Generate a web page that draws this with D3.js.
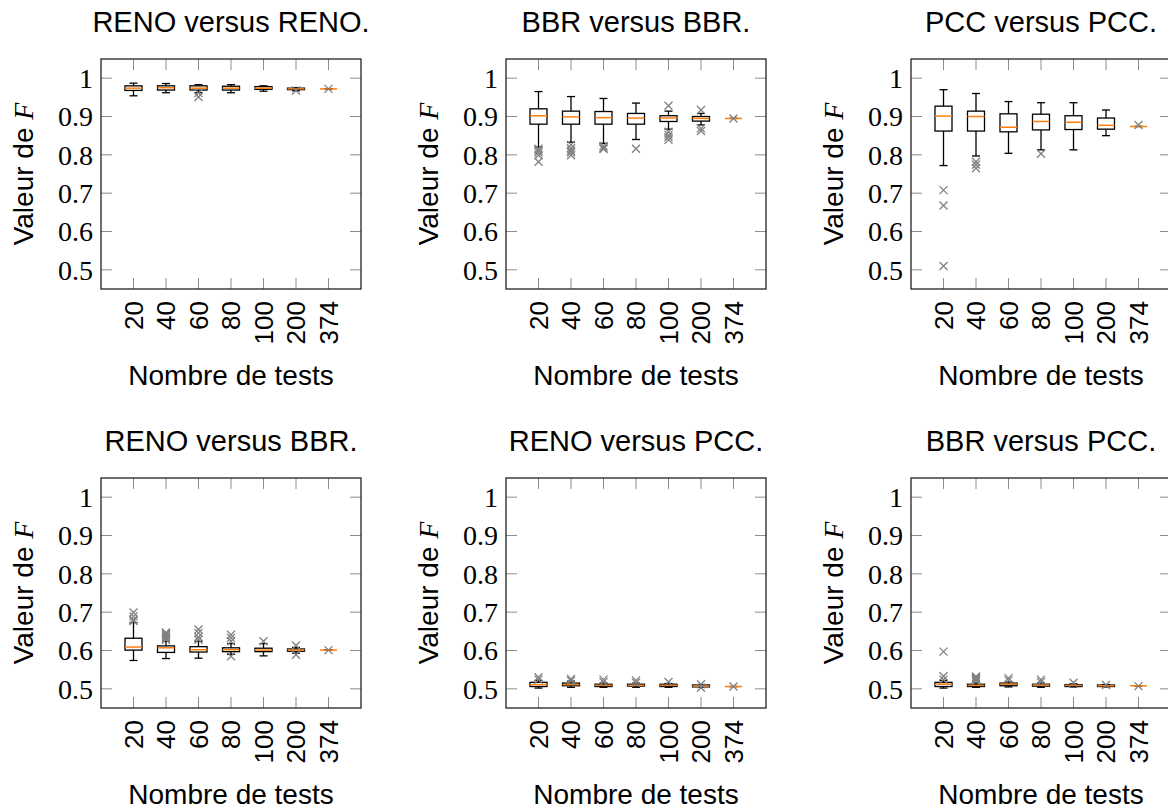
<!DOCTYPE html>
<html>
<head>
<meta charset="utf-8">
<script src="https://cdn.jsdelivr.net/npm/d3@7"></script>
<style>
  html, body { margin: 0; padding: 0; background: #fff; }
  svg { display: block; }
</style>
</head>
<body>
<svg id="chart" width="1168" height="812"></svg>
<script>
// Number of tests drawn per sample (x categories)
const categories = ["20", "40", "60", "80", "100", "200", "374"];
const yTicks = [0.5, 0.6, 0.7, 0.8, 0.9, 1];

const titles = [
  "RENO versus RENO.", "BBR versus BBR.", "PCC versus PCC.",
  "RENO versus BBR.", "RENO versus PCC.", "BBR versus PCC."
];

// Box statistics per category: [lower whisker, Q1, median, Q3, upper whisker]
const renoReno = [
  [0.954, 0.968, 0.974, 0.980, 0.987],
  [0.962, 0.969, 0.975, 0.980, 0.986],
  [0.962, 0.969, 0.974, 0.980, 0.983],
  [0.962, 0.969, 0.974, 0.979, 0.983],
  [0.966, 0.971, 0.974, 0.978, 0.980],
  [0.967, 0.970, 0.972, 0.974, 0.975],
  [0.972, 0.972, 0.972, 0.972, 0.972]
];
const renoRenoOut = [[], [], [0.951, 0.961], [], [], [0.968], [0.972]];

const bbrBbr = [
  [0.820, 0.880, 0.902, 0.920, 0.965],
  [0.833, 0.880, 0.899, 0.914, 0.952],
  [0.830, 0.880, 0.897, 0.913, 0.947],
  [0.840, 0.880, 0.896, 0.908, 0.935],
  [0.867, 0.887, 0.896, 0.902, 0.914],
  [0.878, 0.888, 0.895, 0.900, 0.908],
  [0.895, 0.895, 0.895, 0.895, 0.895]
];
const bbrBbrOut = [
  [0.816, 0.811, 0.806, 0.799, 0.782],
  [0.826, 0.817, 0.811, 0.806, 0.799],
  [0.823, 0.818, 0.815],
  [0.816],
  [0.928, 0.860, 0.852, 0.846, 0.839],
  [0.917, 0.869, 0.862],
  [0.895]
];

const pccPcc = [
  [0.772, 0.862, 0.901, 0.927, 0.970],
  [0.797, 0.862, 0.900, 0.914, 0.960],
  [0.804, 0.860, 0.872, 0.907, 0.939],
  [0.813, 0.865, 0.887, 0.906, 0.936],
  [0.813, 0.866, 0.885, 0.902, 0.936],
  [0.850, 0.867, 0.877, 0.896, 0.917],
  [0.874, 0.874, 0.874, 0.874, 0.874]
];
const pccPccOut = [
  [0.708, 0.668, 0.510],
  [0.782, 0.774, 0.765],
  [],
  [0.803],
  [],
  [],
  [0.878]
];

const renoBbr = [
  [0.574, 0.601, 0.609, 0.632, 0.673],
  [0.579, 0.595, 0.607, 0.612, 0.624],
  [0.580, 0.596, 0.602, 0.610, 0.624],
  [0.590, 0.597, 0.602, 0.607, 0.618],
  [0.586, 0.597, 0.601, 0.606, 0.618],
  [0.593, 0.598, 0.601, 0.604, 0.608],
  [0.601, 0.601, 0.601, 0.601, 0.601]
];
const renoBbrOut = [
  [0.699, 0.689, 0.680, 0.677],
  [0.647, 0.643, 0.640, 0.636, 0.632, 0.628],
  [0.655, 0.646, 0.635, 0.628],
  [0.641, 0.633, 0.624, 0.585],
  [0.624],
  [0.613, 0.589],
  [0.601]
];

const renoPcc = [
  [0.502, 0.506, 0.511, 0.517, 0.522],
  [0.504, 0.508, 0.511, 0.515, 0.520],
  [0.504, 0.506, 0.509, 0.512, 0.515],
  [0.504, 0.507, 0.509, 0.512, 0.515],
  [0.504, 0.506, 0.509, 0.512, 0.514],
  [0.504, 0.505, 0.507, 0.510, 0.511],
  [0.506, 0.506, 0.506, 0.506, 0.506]
];
const renoPccOut = [
  [0.530, 0.524],
  [0.526, 0.521],
  [0.524, 0.518],
  [0.522, 0.516],
  [0.518],
  [0.512, 0.503],
  [0.506]
];

const bbrPcc = [
  [0.502, 0.506, 0.512, 0.517, 0.522],
  [0.504, 0.506, 0.509, 0.512, 0.515],
  [0.505, 0.508, 0.512, 0.515, 0.518],
  [0.504, 0.507, 0.510, 0.512, 0.515],
  [0.505, 0.506, 0.509, 0.511, 0.513],
  [0.505, 0.506, 0.508, 0.510, 0.511],
  [0.508, 0.508, 0.508, 0.508, 0.508]
];
const bbrPccOut = [
  [0.597, 0.533, 0.524],
  [0.532, 0.529, 0.526, 0.523, 0.520],
  [0.528, 0.522],
  [0.524, 0.518],
  [0.516],
  [0.510],
  [0.507]
];

const boxes = [renoReno, bbrBbr, pccPcc, renoBbr, renoPcc, bbrPcc];
const outliers = [renoRenoOut, bbrBbrOut, pccPccOut, renoBbrOut, renoPccOut, bbrPccOut];

// ---- layout ----
const plotW = 260, plotH = 230;
const colX = [101, 506, 911];
const rowY = [59, 478];
const tickLen = 11;
const sans = "'Liberation Sans', Arial, Helvetica, sans-serif";
const serif = "'Liberation Serif', 'Times New Roman', serif";

const svg = d3.select("#chart");

boxes.forEach((stats, p) => {
  const left = colX[p % 3], top = rowY[Math.floor(p / 3)];
  const g = svg.append("g").attr("transform", `translate(${left},${top})`);

  const x = d3.scaleLinear().domain([0, categories.length + 1]).range([0, plotW]);
  const y = d3.scaleLinear().domain([0.45, 1.05]).range([plotH, 0]);
  const pos = categories.map((c, i) => i + 1);

  // tick marks on all four sides, pointing inward
  const tickStyle = sel => sel.attr("stroke", "#8c8c8c").attr("stroke-width", 1);
  g.selectAll(".xtb").data(pos).join("line")
    .attr("x1", d => x(d)).attr("x2", d => x(d))
    .attr("y1", plotH).attr("y2", plotH - tickLen).call(tickStyle);
  g.selectAll(".xtt").data(pos).join("line")
    .attr("x1", d => x(d)).attr("x2", d => x(d))
    .attr("y1", 0).attr("y2", tickLen).call(tickStyle);
  g.selectAll(".ytl").data(yTicks).join("line")
    .attr("x1", 0).attr("x2", tickLen)
    .attr("y1", d => y(d)).attr("y2", d => y(d)).call(tickStyle);
  g.selectAll(".ytr").data(yTicks).join("line")
    .attr("x1", plotW).attr("x2", plotW - tickLen)
    .attr("y1", d => y(d)).attr("y2", d => y(d)).call(tickStyle);

  // y tick labels
  g.selectAll(".ylab").data(yTicks).join("text")
    .attr("x", -8).attr("y", d => y(d)).attr("dy", "0.35em")
    .attr("text-anchor", "end")
    .attr("font-family", serif).attr("font-size", 28)
    .text(d => d === 1 ? "1" : d3.format(".1f")(d));

  // x tick labels (rotated)
  g.selectAll(".xlab").data(pos).join("text")
    .attr("transform", d => `translate(${x(d) + 9},${plotH + 12}) rotate(-90)`)
    .attr("text-anchor", "end")
    .attr("font-family", sans).attr("font-size", 26)
    .text((d, i) => categories[i]);

  const boxW = 17, capW = 8;

  stats.forEach((s, i) => {
    const cx = x(pos[i]);
    const [lo, q1, med, q3, hi] = s;
    const bg = g.append("g");
    // whiskers
    bg.append("line").attr("x1", cx).attr("x2", cx).attr("y1", y(hi)).attr("y2", y(q3))
      .attr("stroke", "#000").attr("stroke-width", 1.3);
    bg.append("line").attr("x1", cx).attr("x2", cx).attr("y1", y(q1)).attr("y2", y(lo))
      .attr("stroke", "#000").attr("stroke-width", 1.3);
    bg.append("line").attr("x1", cx - capW / 2).attr("x2", cx + capW / 2).attr("y1", y(hi)).attr("y2", y(hi))
      .attr("stroke", "#000").attr("stroke-width", 1.3);
    bg.append("line").attr("x1", cx - capW / 2).attr("x2", cx + capW / 2).attr("y1", y(lo)).attr("y2", y(lo))
      .attr("stroke", "#000").attr("stroke-width", 1.3);
    // box
    bg.append("rect").attr("x", cx - boxW / 2).attr("width", boxW)
      .attr("y", y(q3)).attr("height", Math.max(0, y(q1) - y(q3)))
      .attr("fill", "none").attr("stroke", "#000").attr("stroke-width", 1.3);
    // median
    bg.append("line").attr("x1", cx - boxW / 2).attr("x2", cx + boxW / 2)
      .attr("y1", y(med)).attr("y2", y(med))
      .attr("stroke", "#ff7f0e").attr("stroke-width", 1.5);
    // outliers as crosses
    const r = 4;
    outliers[p][i].forEach(v => {
      const cy = y(v);
      bg.append("path")
        .attr("d", `M${cx - r},${cy - r}L${cx + r},${cy + r}M${cx - r},${cy + r}L${cx + r},${cy - r}`)
        .attr("stroke", "#808080").attr("stroke-width", 1.3).attr("fill", "none");
    });
  });

  // frame
  g.append("rect").attr("width", plotW).attr("height", plotH)
    .attr("fill", "none").attr("stroke", "#222").attr("stroke-width", 1.3);

  // title
  g.append("text").attr("x", plotW / 2).attr("y", -27)
    .attr("text-anchor", "middle").attr("font-family", sans).attr("font-size", 29)
    .text(titles[p]);

  // y axis label
  const yl = g.append("text")
    .attr("transform", `translate(-68,${plotH / 2}) rotate(-90)`)
    .attr("text-anchor", "middle").attr("font-family", sans).attr("font-size", 28);
  yl.append("tspan").text("Valeur de ");
  yl.append("tspan").attr("font-family", serif).attr("font-style", "italic").text("F");

  // x axis label
  g.append("text").attr("x", plotW / 2).attr("y", plotH + 96)
    .attr("text-anchor", "middle").attr("font-family", sans).attr("font-size", 28)
    .text("Nombre de tests");
});
</script>
</body>
</html>
